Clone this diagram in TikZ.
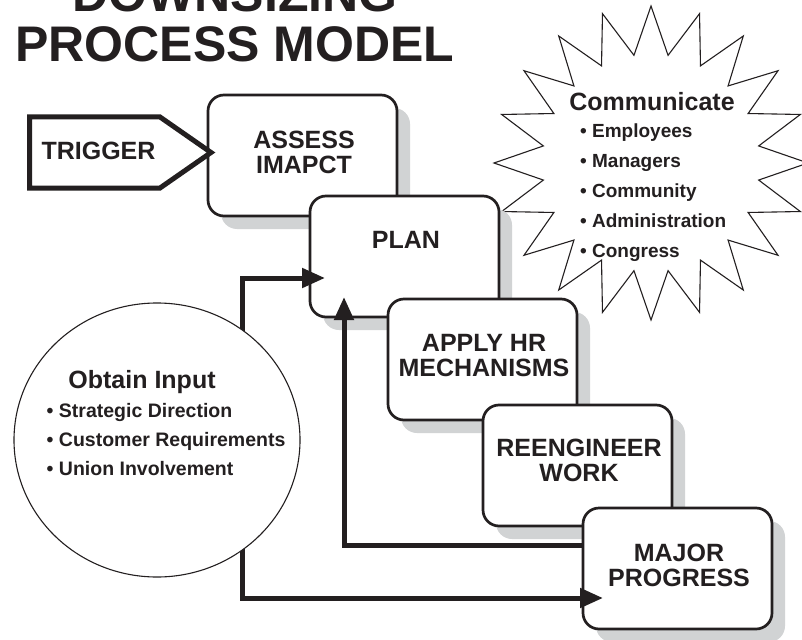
\documentclass[tikz,border=0pt]{standalone}
\usepackage{fontspec}
\setmainfont{Liberation Sans}
\usetikzlibrary{shadows,arrows.meta,calc,shapes.geometric}
\definecolor{ink}{HTML}{231F20}
\definecolor{shadowgray}{HTML}{D1D3D4}
\tikzset{
  procbox/.style={draw=ink, line width=2.7pt, fill=white, rounded corners=16pt,
    minimum width=189pt, minimum height=121pt, inner sep=0pt, outer sep=0pt,
    drop shadow={shadow xshift=13pt, shadow yshift=-13pt, fill=shadowgray, opacity=1}},
  boxlabel/.style={text=ink, font=\fontsize{25}{25}\selectfont\bfseries, align=center,
    inner sep=0pt, anchor=south},
  headlabel/.style={text=ink, font=\fontsize{25}{25}\selectfont\bfseries, inner sep=0pt, anchor=base},
  listlabel/.style={text=ink, align=left, inner sep=0pt, anchor=north west},
  conn/.style={draw=ink, line width=5pt, line join=miter, -{Triangle[length=23pt,width=19pt]}},
  thinline/.style={draw=ink, line width=1.1pt, fill=white},
  trig/.style={draw=ink, line width=5pt, line join=miter, fill=white}
}
\begin{document}
\begin{tikzpicture}[x=1pt,y=-1pt]
\useasboundingbox (0,0) rectangle (802,639);
\fill[white] (0,0) rectangle (802,639);
\clip (0,0) rectangle (802,639);

% starburst
\draw[thinline, line join=miter] ([shift={(651,163)}]0:157)
  \foreach \i in {0,...,19} { -- ([shift={(651,163)}]\i*18+9:109) -- ([shift={(651,163)}]\i*18+18:157) } -- cycle;

% title
\node[text=ink, font=\fontsize{50}{50.5}\selectfont\bfseries, align=center, inner sep=0pt, anchor=south]
  (title) at (235,62.5) {DOWNSIZING\\PROCESS MODEL};

% process boxes
\node[procbox] (assess) at (302.5,155.5) {};
\node[procbox] (plan)   at (404.5,256.5) {};
\node[procbox] (apply)  at (482.5,359.5) {};
\node[procbox] (reeng)  at (577.5,465.5) {};
\node[procbox] (major)  at (677.5,568.5) {};

% connector points
\coordinate (split)   at (242,440);
\coordinate (planIn)  at (325,278);
\coordinate (majorIn) at (603,598);
\coordinate (fbOut)   at (583,545);
\coordinate (planUp)  at (344,297);

\draw[conn] (split) |- (planIn);
\draw[conn] (split) |- (majorIn);
\draw[conn] (fbOut) -| (planUp);

% obtain input circle
\node[thinline, ellipse, minimum width=286pt, minimum height=274pt, inner sep=0pt] (input) at (157,440) {};

% trigger
\draw[trig] (29.5,117) -- (160,117) -- (211,152.5) -- (160,188) -- (29.5,188) -- cycle;
\node[headlabel] (triggerT) at (98.5,160) {TRIGGER};

% box labels
\node[boxlabel] (assessT) at (304,174) {ASSESS\\IMAPCT};
\node[boxlabel] (planT)   at (406,249) {PLAN};
\node[boxlabel] (applyT)  at (484,377) {APPLY HR\\MECHANISMS};
\node[boxlabel] (reengT)  at (579,482) {REENGINEER\\WORK};
\node[boxlabel] (majorT)  at (679,587) {MAJOR\\PROGRESS};

% communicate text
\node[headlabel] (commT) at (652,111) {Communicate};
\node[listlabel, font=\fontsize{19}{30}\selectfont\bfseries] (commL) at (580,123.5)
  {• Employees\\• Managers\\• Community\\• Administration\\• Congress};

% obtain input text
\node[headlabel] (inT) at (142,388) {Obtain Input};
\node[listlabel, font=\fontsize{19.5}{29.3}\selectfont\bfseries] (inL) at (46.5,402.7)
  {• Strategic Direction\\• Customer Requirements\\• Union Involvement};
\end{tikzpicture}
\end{document}
